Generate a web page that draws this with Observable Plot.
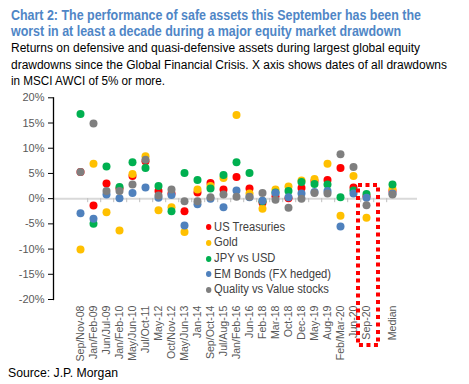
<!DOCTYPE html>
<html><head><meta charset="utf-8">
<script src="https://cdn.jsdelivr.net/npm/d3@7"></script>
<script src="https://cdn.jsdelivr.net/npm/@observablehq/plot@0.6"></script>
<style>
body{margin:0;background:#fff;font-family:"Liberation Sans",Arial,sans-serif;}
#wrap{position:relative;width:469px;height:384px;overflow:hidden;}
.ln{position:absolute;white-space:nowrap;transform-origin:0 0;}
.t{left:11px;font-weight:bold;color:#4f86c6;font-size:14px;line-height:14px;}
.s{left:11px;color:#000;font-size:12.5px;line-height:12.5px;}
#src{left:8px;color:#000;font-size:12px;line-height:12px;}
#chart{position:absolute;left:0;top:88px;}
#legend{position:absolute;left:206px;top:219.5px;transform-origin:0 0;color:#404040;font-size:12.5px;}
#legend .it{height:15.7px;line-height:15.7px;white-space:nowrap;display:flex;align-items:center;}
#legend .dt{width:6px;height:6px;border-radius:50%;display:inline-block;margin-right:3px;}
</style></head>
<body><div id="wrap">
<div class="ln t" style="top:7.7px" data-w="410">Chart 2: The performance of safe assets this September has been the</div>
<div class="ln t" style="top:23.5px" data-w="390">worst in at least a decade during a major equity market drawdown</div>
<div class="ln s" style="top:41.7px" data-w="409">Returns on defensive and quasi-defensive assets during largest global equity</div>
<div class="ln s" style="top:58.9px" data-w="436">drawdowns since the Global Financial Crisis. X axis shows dates of all drawdowns</div>
<div class="ln s" style="top:75.4px" data-w="154">in MSCI AWCI of 5% or more.</div>
<div id="chart"></div>
<div id="legend"></div>
<div class="ln" id="src" style="top:366.8px" data-w="110">Source: J.P. Morgan</div>
</div>
<script>
const categories = ["Sep/Nov-08","Jan/Feb-09","Jun/Jul-09","Jan/Feb-10","May/Jun-10","Jul/Oct-11","May-12","Oct/Nov-12","May/Jun-13","Jan-14","Sep/Oct-14","Jul/Aug-15","Jan/Feb-16","Jun-16","Feb-18","Mar-18","Oct-18","Dec-18","May-19","Aug-19","Feb/Mar-20","Jun-20","Sep-20","","Median"];
const seriesNames = ["US Treasuries","Gold","JPY vs USD","EM Bonds (FX hedged)","Quality vs Value stocks"];
const seriesColors = ["#ff0000","#ffc000","#00b050","#4f81bd","#7f7f7f"];
const usTreasuries = [5.3,-1.35,3.0,2.0,4.5,7.4,1.5,1.0,-2.5,1.2,3.1,1.8,4.3,2.0,-0.8,0.5,0.1,2.1,3.5,3.7,6.1,2.2,0.5,null,1.5];
const gold = [-10.1,6.9,-2.7,-6.3,4.9,8.4,-2.3,-1.7,-6.6,1.8,2.5,4.1,16.6,1.0,-2.0,1.8,2.4,3.6,3.9,6.9,-3.4,4.5,-3.8,null,1.9];
const jpyVsUsd = [16.8,-5.0,6.4,2.3,7.2,6.1,2.5,-2.5,5.1,3.7,2.0,4.7,7.2,5.1,-0.5,1.2,1.5,3.3,2.9,2.8,0.3,1.6,0.9,null,2.8];
const emBonds = [-2.9,-4.0,0.8,0.1,1.1,2.2,0.2,0.7,-5.3,-1.1,0.0,-1.7,1.6,0.3,-0.4,1.1,0.3,1.0,1.3,1.5,-5.5,1.0,0.2,null,1.0];
const qualityVsValue = [5.3,14.9,1.5,1.5,2.8,7.7,0.6,1.8,-0.5,-0.5,0.3,0.8,0.4,0.4,1.1,-0.2,-1.8,0.0,1.1,1.0,8.8,6.3,-1.3,null,0.8];
const yTicks = [-20,-15,-10,-5,0,5,10,15,20];

const allSeries = [usTreasuries, gold, jpyVsUsd, emBonds, qualityVsValue];
const rows = [];
allSeries.forEach((vals, s) => vals.forEach((v, i) => {
  if (v != null) rows.push({cat: categories[i], value: v, series: seriesNames[s]});
}));

const chart = Plot.plot({
  width: 469, height: 276,
  marginLeft: 53, marginRight: 52, marginTop: 9.3, marginBottom: 65,
  style: {fontFamily: '"Liberation Sans", Arial, sans-serif', background: "#fff", overflow: "visible"},
  x: {type: "point", domain: categories, range: [63.5, 409]},
  y: {domain: [-20, 20]},
  color: {domain: seriesNames, range: seriesColors},
  marks: [
    Plot.ruleY([0], {stroke: "#d9d9d9", strokeWidth: 2}),
    Plot.ruleX(categories.slice(0, -1), {x: d => d, y1: 0, y2: -0.8, dx: 7.2, stroke: "#bfbfbf"}),
    Plot.frame({anchor: "left", stroke: "#000", strokeWidth: 1.3}),
    Plot.axisY({ticks: yTicks, tickFormat: d => d + "%", tickSize: 5, tickPadding: 4, fontSize: 11, color: "#595959", stroke: "#000", label: null}),
    Plot.axisX({tickRotate: -90, tickSize: 0, tickPadding: 6, fontSize: 10.6, color: "#595959", label: null, tickFormat: d => d}),
    Plot.dot(rows, {x: "cat", y: "value", fill: "series", r: 4, stroke: null})
  ]
});
document.getElementById("chart").appendChild(chart);

// red dotted highlight around latest drawdown
const xs = chart.scale("x"), ys = chart.scale("y");
const boxCx = xs.apply("Sep-20");
const boxTop = ys.apply(2.6), boxBottom = ys.apply(-20) + 46;
d3.select(chart).append("rect")
  .attr("x", boxCx - 8).attr("y", boxTop).attr("width", 20).attr("height", boxBottom - boxTop)
  .attr("fill", "none").attr("stroke", "#ff0000").attr("stroke-width", 4)
  .attr("stroke-dasharray", "4 3.5");

// legend
const leg = d3.select("#legend");
seriesNames.forEach((n, i) => {
  const it = leg.append("div").attr("class", "it");
  it.append("span").attr("class", "dt").style("background", seriesColors[i]);
  it.append("span").text(n);
});
const emEl = leg.selectAll(".it").nodes()[3].lastChild;
const ls = 117 / emEl.getBoundingClientRect().width;
document.getElementById("legend").style.transform = `scaleX(${ls})`;

// fit text widths
document.querySelectorAll("[data-w]").forEach(el => {
  const w = el.getBoundingClientRect().width;
  el.style.transform = `scaleX(${(+el.dataset.w) / w})`;
});
</script>
</body></html>
